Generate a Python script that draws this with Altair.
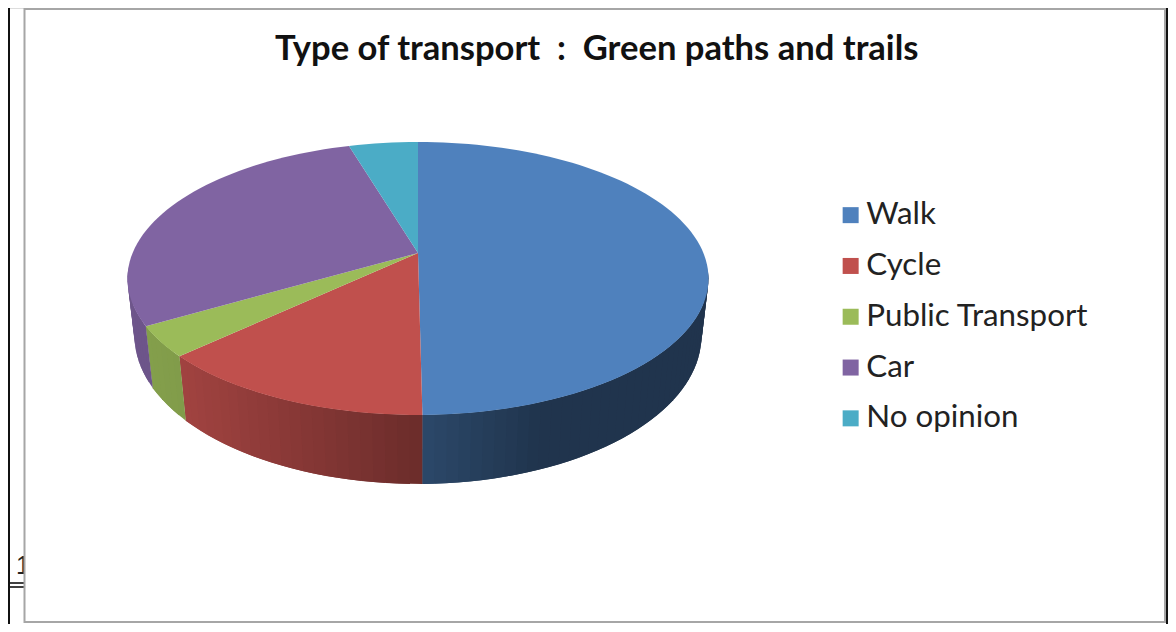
import numpy as np
import pandas as pd
import altair as alt

categories = ["Walk", "Cycle", "Public Transport", "Car", "No opinion"]
values = [49.8, 13.2, 3.6, 28.8, 4.6]
colors = ["#4f81bd", "#c0504d", "#9bbb59", "#8064a2", "#4bacc6"]
title_text = "Type of transport\u00a0\u00a0:\u00a0\u00a0Green paths and trails"

W, H = 1160, 616
OFF = 8
CX, CY = 418, 253
K, A, B = 0.1868, 131.7, 285.4
DEPTH = 69


def top(theta):
    u, v = np.sin(theta), -np.cos(theta)
    w = 1 - K * v
    return CX + B * u / w - OFF, CY + A * v / w - OFF, v, w


def bottom(theta):
    x, y, v, w = top(theta)
    dy = DEPTH * (1 - K) / w
    return x - (x + OFF - CX) * dy / 2400, y + dy


def shade(px):
    return float(np.interp(px, [130, 190, 423, 540, 720], [0.86, 0.83, 0.56, 0.41, 0.41]))


def tint(hex_color, f):
    r, g, b = [int(hex_color[i:i + 2], 16) for i in (1, 3, 5)]
    return "#%02x%02x%02x" % (int(r * f), int(g * f), int(b * f))


top_rows, wall_rows = [], []
start = 0.0
for name, val, col in zip(categories, values, colors):
    end = start + val
    a0, a1 = np.radians(start * 3.6), np.radians(end * 3.6)
    n = max(4, int(val * 3.6 / 2))
    th = np.linspace(a0, a1, n + 1)
    x, y, v, _ = top(th)
    top_rows.append({"cat": name, "x": CX - OFF, "y": CY - OFF, "o": 0})
    for i in range(n + 1):
        top_rows.append({"cat": name, "x": x[i], "y": y[i], "o": i + 1})
    bx, by = bottom(th)
    for i in range(n):
        if v[i] < 0.15 and v[i + 1] < 0.15:
            continue
        k = min(i + 2, n)
        c = tint(col, shade((x[i] + x[i + 1]) / 2 + OFF))
        sid = f"{name}-{i:03d}"
        quad = [(x[i], y[i]), (x[k], y[k]), (bx[k], by[k]), (bx[i], by[i])]
        for j, (qx, qy) in enumerate(quad):
            wall_rows.append({"sid": sid, "c": c, "x": qx, "y": qy, "o": j})
    start = end

top_df = pd.DataFrame(top_rows)
wall_df = pd.DataFrame(wall_rows)

X = alt.X("x:Q", scale=alt.Scale(domain=[0, W], nice=False, zero=False), axis=None)
Y = alt.Y("y:Q", scale=alt.Scale(domain=[H, 0], nice=False, zero=False), axis=None)

stray = alt.Chart(pd.DataFrame({"x": [8], "y": [558], "t": ["1"]})).mark_text(
    fontSize=25, font="Liberation Sans", align="left", baseline="middle", color="#222222"
).encode(x=X, y=Y, text="t:N")

rules = alt.Chart(pd.DataFrame({
    "x": [0, 0], "x2": [16, 16], "y": [575, 579]
})).mark_rule(color="#111111", strokeWidth=1.6).encode(x=X, x2="x2:Q", y=Y)

right = alt.Chart(pd.DataFrame({"x": [1159], "y": [0], "y2": [H]})).mark_rule(
    color="#111111", strokeWidth=2
).encode(x=X, y=Y, y2="y2:Q")

left = alt.Chart(pd.DataFrame({"x": [1], "y": [0], "y2": [H]})).mark_rule(
    color="#111111", strokeWidth=2
).encode(x=X, y=Y, y2="y2:Q")

box = alt.Chart(pd.DataFrame({"x": [16.5], "x2": [1157], "y": [1], "y2": [614]})).mark_rect(
    fill="white", stroke="#a6a6a6", strokeWidth=2
).encode(x=X, x2="x2:Q", y=Y, y2="y2:Q")

walls = alt.Chart(wall_df).mark_line(filled=True, strokeWidth=0, interpolate="linear").encode(
    x=X, y=Y, order="o:Q", detail="sid:N",
    color=alt.Color("c:N", scale=None, legend=None),
)

slices = alt.Chart(top_df).mark_line(filled=True, interpolate="linear").encode(
    x=X, y=Y, order="o:Q",
    color=alt.Color(
        "cat:N",
        scale=alt.Scale(domain=categories, range=colors),
        sort=categories,
        legend=alt.Legend(
            title=None, orient="none", legendX=827, legendY=191.5,
            symbolType="square", symbolSize=256, symbolStrokeWidth=0,
            labelFont="Lato", labelFontSize=31.3, labelColor="#222222",
            rowPadding=18.8, labelOffset=0, labelLimit=300,
        ),
    ),
)

chart = alt.layer(stray, rules, left, right, box, walls, slices).resolve_scale(color="independent").properties(
    width=W, height=H, padding=0,
    autosize=alt.AutoSizeParams(type="none"),
    title=alt.TitleParams(
        title_text,
        font="Lato", fontSize=34.6, fontWeight="bold", color="#111111",
        anchor="start", orient="none", offset=0, dx=267, dy=25,
    ),
).configure_view(stroke=None).configure(background="white")

chart.save("out.html", embed_options={"renderer": "svg", "actions": False})
